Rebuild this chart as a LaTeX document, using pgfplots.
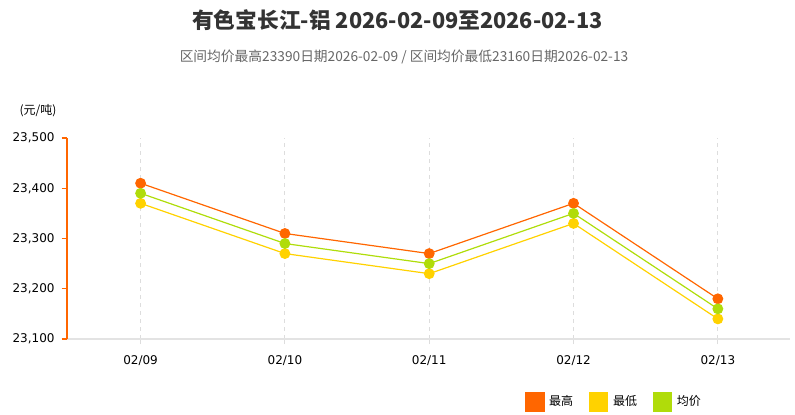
\documentclass[border=0pt]{standalone}
\usepackage{fontspec}
\usepackage{pgfplots}
\pgfplotsset{compat=1.18}
\setmainfont{Noto Sans CJK SC}
\newfontfamily\tickfont{DejaVu Sans}

\definecolor{cHigh}{HTML}{FF6600}
\definecolor{cLow}{HTML}{FFD200}
\definecolor{cAvg}{HTML}{B0DC0A}
\definecolor{cTitle}{HTML}{333333}
\definecolor{cSub}{HTML}{666666}
\definecolor{cGrid}{HTML}{DDDDDD}
\definecolor{cBase}{HTML}{E3E3E3}

\begin{document}
\begin{tikzpicture}
% fixed canvas: 795 x 412 px, 1px = 0.75pt
\path (0,0) rectangle (596.25pt,309pt);

\node[font=\bfseries\fontsize{16.3}{18}\selectfont, text=cTitle] at (298.125pt,294pt)
  {有色宝长江-铝 2026-02-09至2026-02-13};
\node[font=\fontsize{10.3}{12}\selectfont, text=cSub] at (303pt,266.25pt)
  {区间均价最高23390日期2026-02-09 / 区间均价最低23160日期2026-02-13};
\node[font=\fontsize{9}{11}\selectfont] at (28.5pt,225.75pt) {(元/吨)};

\begin{axis}[
    at={(50.25pt,54.75pt)},
    anchor=south west,
    scale only axis,
    width=542.25pt,
    height=150.75pt,
    xmin=-0.51, xmax=4.5,
    ymin=23100, ymax=23500,
    xtick={0,1,2,3,4},
    xticklabels={02/09,02/10,02/11,02/12,02/13},
    ytick={23100,23200,23300,23400,23500},
    scaled y ticks=false,
    ticklabel style={font=\tickfont\fontsize{9}{11}\selectfont, text=black},
    yticklabel style={xshift=-1.8pt, /pgf/number format/.cd, fixed, precision=0, 1000 sep={,}, assume math mode=true},
    axis lines=left,
    axis line style={-},
    x axis line style={draw=cBase, line width=1.5pt},
    y axis line style={draw=cHigh, line width=1.5pt},
    tick align=outside,
    major tick length=4pt,
    xtick style={draw=cGrid, line width=0.8pt},
    ytick style={draw=cHigh, line width=0.8pt},
    xmajorgrids,
    ymajorgrids=false,
    grid style={draw=cGrid, dashed, line width=0.8pt},
    xticklabel style={yshift=-5pt},
    legend columns=3,
    legend style={
        at={(rel axis cs:0.628,-0.313)},
        anchor=west,
        draw=none,
        fill=none,
        font=\fontsize{9}{11}\selectfont,
        /tikz/every even column/.append style={column sep=10pt},
        /tikz/every odd column/.append style={column sep=1.5pt},
    },
    legend image code/.code={\fill[#1] (0pt,-6.75pt) rectangle (13.5pt,6.75pt);},
    every axis plot/.append style={line width=0.9pt, mark=*, mark size=3.6pt},
]
\addplot[color=cHigh, mark options={fill=cHigh, draw=cHigh}] coordinates {
    (0,23410) (1,23310) (2,23270) (3,23370) (4,23180)
};
\addplot[color=cLow, mark options={fill=cLow, draw=cLow}] coordinates {
    (0,23370) (1,23270) (2,23230) (3,23330) (4,23140)
};
\addplot[color=cAvg, mark options={fill=cAvg, draw=cAvg}] coordinates {
    (0,23390) (1,23290) (2,23250) (3,23350) (4,23160)
};
\legend{最高, 最低, 均价}
\end{axis}
\end{tikzpicture}
\end{document}
